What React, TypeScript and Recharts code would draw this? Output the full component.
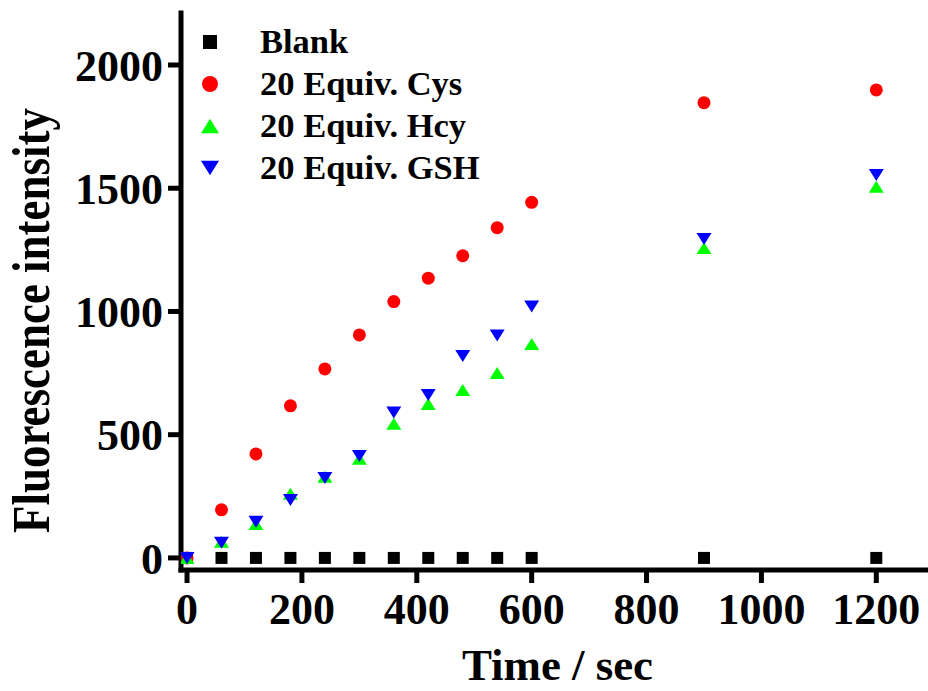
import React from 'react';
import { ScatterChart, Scatter, XAxis, YAxis, Legend } from 'recharts';

// Sampling times (s)
const times = [0, 60, 120, 180, 240, 300, 360, 420, 480, 540, 600, 900, 1200];

// Fluorescence intensity for each condition
const blank = [0, 0, 0, 0, 0, 0, 0, 0, 0, 0, 0, 0, 0];
const cys = [0, 195, 422, 617, 767, 905, 1040, 1135, 1226, 1340, 1443, 1847, 1899];
const hcy = [0, 66, 138, 260, 329, 402, 544, 625, 681, 750, 868, 1258, 1506];
const gsh = [0, 62, 147, 235, 324, 414, 590, 661, 819, 902, 1020, 1294, 1554];

const xTicks = [0, 200, 400, 600, 800, 1000, 1200];
const yTicks = [0, 500, 1000, 1500, 2000];

const seriesNames = ['Blank', '20 Equiv. Cys', '20 Equiv. Hcy', '20 Equiv. GSH'];

const FONT = '"Liberation Serif", "Times New Roman", serif';

const toPoints = (vals: number[]) => times.map((t, i) => ({ x: t, y: vals[i] }));

type MarkerKind = 'square' | 'circle' | 'up' | 'down';

const markerColor: Record<MarkerKind, string> = {
  square: '#000000',
  circle: '#ff0000',
  up: '#00ff00',
  down: '#0000ff',
};

function markerPath(kind: MarkerKind, cx: number, cy: number, s: number) {
  const c = markerColor[kind];
  if (kind === 'square') {
    return <rect x={cx - s / 2} y={cy - s / 2} width={s} height={s} fill={c} />;
  }
  if (kind === 'circle') {
    return <circle cx={cx} cy={cy} r={s / 2} fill={c} />;
  }
  const hw = s * 0.6;
  const hh = s * 0.48;
  if (kind === 'up') {
    return (
      <polygon
        points={`${cx},${cy - hh} ${cx - hw},${cy + hh} ${cx + hw},${cy + hh}`}
        fill={c}
      />
    );
  }
  return (
    <polygon
      points={`${cx - hw},${cy - hh} ${cx + hw},${cy - hh} ${cx},${cy + hh}`}
      fill={c}
    />
  );
}

const makeShape = (kind: MarkerKind, size: number) => (props: any) => {
  const { cx, cy } = props;
  if (cx == null || cy == null) return <g />;
  return markerPath(kind, cx, cy, size);
};

const kinds: MarkerKind[] = ['square', 'circle', 'up', 'down'];
const legendSizes = [14, 16, 15, 15];

const LegendBox = () => (
  <svg width={340} height={170} style={{ display: 'block', overflow: 'visible' }}>
    {seriesNames.map((name, i) => {
      const cy = 21 + i * 42;
      return (
        <g key={name}>
          {markerPath(kinds[i], 11, cy, legendSizes[i])}
          <text
            x={61}
            y={cy + 11}
            fontFamily={FONT}
            fontWeight="bold"
            fontSize={34.5}
            fill="#000"
          >
            {name}
          </text>
        </g>
      );
    })}
  </svg>
);

const XTitle = (props: any) => {
  const vb = props.viewBox || {};
  const cx = vb.x + vb.width / 2 + 3;
  return (
    <text
      x={cx}
      y={680}
      textAnchor="middle"
      fontFamily={FONT}
      fontWeight="bold"
      fontSize={45}
      textLength={191}
      lengthAdjust="spacingAndGlyphs"
      fill="#000"
    >
      Time / sec
    </text>
  );
};

const YTitle = (props: any) => {
  const vb = props.viewBox || {};
  const cy = vb.y + vb.height / 2 + 29;
  const bx = 49;
  return (
    <text
      x={bx}
      y={cy}
      transform={`rotate(-90, ${bx}, ${cy})`}
      textAnchor="middle"
      fontFamily={FONT}
      fontWeight="bold"
      fontSize={52}
      textLength={425}
      lengthAdjust="spacingAndGlyphs"
      fill="#000"
    >
      Fluorescence intensity
    </text>
  );
};

const tickStyle = { fontFamily: FONT, fontWeight: 'bold', fontSize: 44, fill: '#000' };
const axisLineStyle = { stroke: '#000', strokeWidth: 5, strokeLinecap: 'square' as const };
const tickLineStyle = { stroke: '#000', strokeWidth: 5 };

export default function App() {
  return (
    <div style={{ position: 'absolute', left: 0, top: 0, width: 928, height: 691, background: '#fff' }}>
      <ScatterChart width={928} height={691} margin={{ top: 13, right: 0, bottom: 0, left: 0 }}>
        <XAxis
          type="number"
          dataKey="x"
          domain={[-10.5, 1290]}
          ticks={xTicks}
          interval={0}
          allowDataOverflow
          height={121}
          tickSize={13}
          tickMargin={10}
          tick={tickStyle}
          axisLine={axisLineStyle}
          tickLine={tickLineStyle}
          label={<XTitle />}
        />
        <YAxis
          type="number"
          dataKey="y"
          domain={[-49, 2211]}
          ticks={yTicks}
          interval={0}
          allowDataOverflow
          width={181}
          tickSize={13}
          tickMargin={5}
          tick={tickStyle}
          axisLine={axisLineStyle}
          tickLine={tickLineStyle}
          label={<YTitle />}
        />
        <Legend
          layout="vertical"
          align="center"
          verticalAlign="middle"
          wrapperStyle={{ left: 199, top: 21, width: 340, height: 170 }}
          content={() => <LegendBox />}
        />
        <Scatter name={seriesNames[0]} data={toPoints(blank)} shape={makeShape('square', 12)} isAnimationActive={false} />
        <Scatter name={seriesNames[1]} data={toPoints(cys)} shape={makeShape('circle', 13)} isAnimationActive={false} />
        <Scatter name={seriesNames[2]} data={toPoints(hcy)} shape={makeShape('up', 12.5)} isAnimationActive={false} />
        <Scatter name={seriesNames[3]} data={toPoints(gsh)} shape={makeShape('down', 12.5)} isAnimationActive={false} />
      </ScatterChart>
    </div>
  );
}
